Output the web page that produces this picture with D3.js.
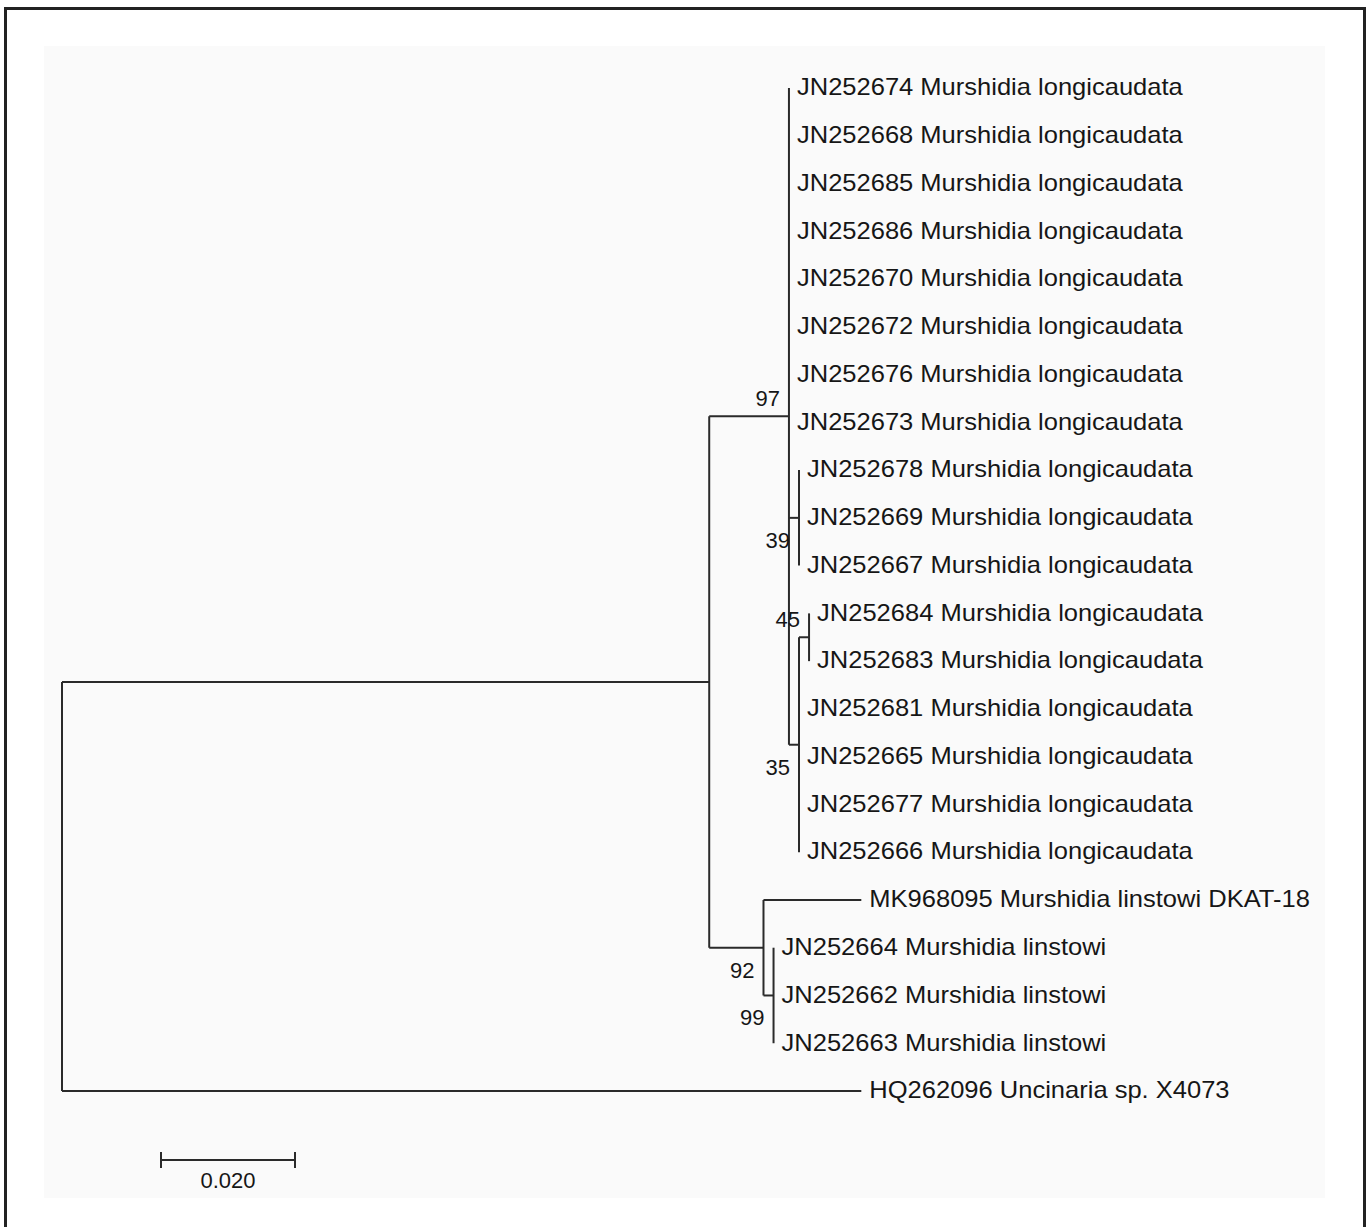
<!DOCTYPE html>
<html>
<head>
<meta charset="utf-8">
<style>
  body { margin: 0; background: #fff; }
  svg text { font-family: "Liberation Sans", Arial, Helvetica, sans-serif; fill: #161616; }
</style>
<script src="https://cdn.jsdelivr.net/npm/d3@7"></script>
</head>
<body>
<svg id="tree" width="1371" height="1227"></svg>
<script>
// tree topology, branch lengths and bootstrap support (newick)
let newick = "((((JN252674:0,JN252668:0,JN252685:0,JN252686:0,JN252670:0,JN252672:0,JN252676:0,JN252673:0," +
  "(JN252678:0,JN252669:0,JN252667:0)39:0.0015," +
  "((JN252684:0,JN252683:0)45:0.0015,JN252681:0,JN252665:0,JN252677:0,JN252666:0)35:0.0015)97:0.0119," +
  "(MK968095:0.0146,(JN252664:0,JN252662:0,JN252663:0)99:0.0015)92:0.0081):0.0966,HQ262096:0.1193);"

let accessions = ["JN252674","JN252668","JN252685","JN252686","JN252670","JN252672","JN252676","JN252673",
  "JN252678","JN252669","JN252667","JN252684","JN252683","JN252681","JN252665","JN252677","JN252666",
  "MK968095","JN252664","JN252662","JN252663","HQ262096"]
let species = ["Murshidia longicaudata","Murshidia longicaudata","Murshidia longicaudata","Murshidia longicaudata",
  "Murshidia longicaudata","Murshidia longicaudata","Murshidia longicaudata","Murshidia longicaudata",
  "Murshidia longicaudata","Murshidia longicaudata","Murshidia longicaudata","Murshidia longicaudata",
  "Murshidia longicaudata","Murshidia longicaudata","Murshidia longicaudata","Murshidia longicaudata",
  "Murshidia longicaudata","Murshidia linstowi DKAT-18","Murshidia linstowi","Murshidia linstowi",
  "Murshidia linstowi","Uncinaria sp. X4073"]
let supportAbove = ["97","45"]
let scaleBarValue = 0.02
let scaleBarLabel = "0.020"

// small newick parser
function parseNewick(s) {
  let pos = 0
  function node() {
    let n = {children: [], name: "", length: 0}
    if (s[pos] === "(") {
      pos++
      n.children.push(node())
      while (s[pos] === ",") { pos++; n.children.push(node()) }
      pos++ // ")"
    }
    let m = /^[^:,();]*/.exec(s.slice(pos))[0]
    n.name = m; pos += m.length
    if (s[pos] === ":") {
      pos++
      let l = /^[0-9.eE-]+/.exec(s.slice(pos))[0]
      n.length = +l; pos += l.length
    }
    return n
  }
  return node()
}

let root = d3.hierarchy(parseNewick(newick), d => d.children.length ? d.children : null)
root.eachBefore(d => { d.dist = d.parent ? d.parent.dist + d.data.length : 0 })

let svg = d3.select("#tree")

// frame + panel
svg.append("rect").attr("x", 44).attr("y", 46).attr("width", 1281).attr("height", 1152).attr("fill", "#fafafa")
svg.append("path").attr("d", "M5.5,1240V8.5H1364.5V1240").attr("fill", "none").attr("stroke", "#222").attr("stroke-width", 3)

let x = d3.scaleLinear().domain([0, 0.1]).range([62, 732])
let y = d3.scaleLinear().domain([0, accessions.length - 1]).range([88, 1091])

let leaves = root.leaves()
leaves.forEach(d => { d.py = y(accessions.indexOf(d.data.name)) })
root.eachAfter(d => {
  if (d.children) d.py = (d.children[0].py + d.children[d.children.length - 1].py) / 2
  d.px = x(d.dist)
})

let lineColor = "#2a2a2a"
let g = svg.append("g").attr("fill", "none").attr("stroke", lineColor).attr("stroke-width", 2)

// horizontal branches
g.selectAll("line.h").data(root.descendants().filter(d => d.parent && d.px > d.parent.px))
  .enter().append("line").attr("class", "h")
  .attr("x1", d => d.parent.px).attr("x2", d => d.px)
  .attr("y1", d => d.py).attr("y2", d => d.py)

// vertical connectors
g.selectAll("line.v").data(root.descendants().filter(d => d.children))
  .enter().append("line").attr("class", "v")
  .attr("x1", d => d.px).attr("x2", d => d.px)
  .attr("y1", d => d.children[0].py).attr("y2", d => d.children[d.children.length - 1].py)

// taxon labels
svg.selectAll("text.leaf").data(leaves)
  .enter().append("text").attr("class", "leaf")
  .attr("transform", d => `translate(${d.px + 8},${d.py - 1}) scale(1.11,1)`)
  .attr("dy", "0.36em")
  .style("font-size", "23px")
  .text(d => d.data.name + " " + species[accessions.indexOf(d.data.name)])

// bootstrap values
svg.selectAll("text.boot").data(root.descendants().filter(d => d.children && d.data.name))
  .enter().append("text").attr("class", "boot")
  .attr("x", d => d.px - 9)
  .attr("y", d => supportAbove.includes(d.data.name) ? d.py - 18 : d.py + 22)
  .attr("dy", "0.36em")
  .attr("text-anchor", "end")
  .style("font-size", "22px")
  .text(d => d.data.name)

// scale bar
let sbx = 161, sby = 1160
let sbw = x(scaleBarValue) - x(0)
let sb = svg.append("g").attr("stroke", lineColor).attr("stroke-width", 2)
sb.append("line").attr("x1", sbx).attr("x2", sbx + sbw).attr("y1", sby).attr("y2", sby)
sb.append("line").attr("x1", sbx).attr("x2", sbx).attr("y1", sby - 8).attr("y2", sby + 8)
sb.append("line").attr("x1", sbx + sbw).attr("x2", sbx + sbw).attr("y1", sby - 8).attr("y2", sby + 8)
svg.append("text").attr("x", sbx + sbw / 2).attr("y", sby + 20).attr("dy", "0.36em")
  .attr("text-anchor", "middle").style("font-size", "22px").text(scaleBarLabel)
</script>
</body>
</html>
